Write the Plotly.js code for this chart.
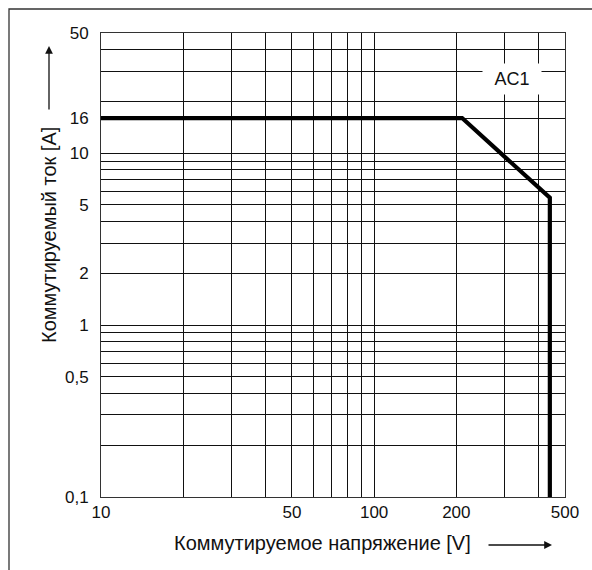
<!DOCTYPE html>
<html>
<head>
<meta charset="utf-8">
<script src="https://cdn.plot.ly/plotly-3.0.1.min.js"></script>
<style>
  html, body { margin: 0; padding: 0; background: #fff; }
  #chart { width: 592px; height: 570px; }
</style>
</head>
<body>
<div id="chart"></div>
<script>
// Curve (AC1 load limit)
const voltage = [10, 210, 440, 440];
const current = [16, 16, 5.5, 0.1];

// Grid / tick values and labels
const xTickVals = [10, 20, 30, 40, 50, 60, 70, 80, 90, 100, 200, 300, 400, 500];
const xTickText = ['10', '', '', '', '50', '', '', '', '', '100', '200', '', '', '500'];
const yTickVals = [0.1, 0.2, 0.3, 0.4, 0.5, 0.6, 0.7, 0.8, 0.9,
                   1, 2, 3, 4, 5, 6, 7, 8, 9, 10, 16, 20, 30, 40, 50];
const yTickText = ['0,1', '', '', '', '0,5', '', '', '', '',
                   '1', '2', '', '', '5', '', '', '', '', '10', '16', '', '', '', '50'];

const seriesLabel = 'AC1';
const xTitle = 'Коммутируемое напряжение [V]';
const yTitle = 'Коммутируемый ток [A]';

const FONT = 'Liberation Sans, Arial, Helvetica, sans-serif';

// plot area geometry (pixels)
const L = 101, T = 33, W = 464, H = 464;
const px = v => (v - L) / W;          // pixel x -> paper
const py = v => 1 - (v - T) / H;      // pixel y -> paper

const trace = {
  x: voltage, y: current,
  type: 'scatter', mode: 'lines',
  line: { color: '#000', width: 4.2, shape: 'linear' },
  hoverinfo: 'skip', showlegend: false
};

const axisCommon = {
  type: 'log',
  showgrid: true, gridcolor: '#111', gridwidth: 1,
  showline: true, linecolor: '#333', linewidth: 1, mirror: true,
  zeroline: false,
  ticks: 'outside', tickcolor: 'rgba(0,0,0,0)',
  tickmode: 'array',
  tickfont: { family: FONT, size: 17, color: '#111' },
  fixedrange: true
};

const layout = {
  width: 592, height: 570,
  margin: { l: L, r: 592 - L - W, t: T, b: 570 - T - H, pad: 0 },
  paper_bgcolor: '#fff', plot_bgcolor: '#fff',
  showlegend: false,
  xaxis: Object.assign({}, axisCommon, {
    range: [Math.log10(10), Math.log10(500)],
    tickvals: xTickVals, ticktext: xTickText, ticklen: 0
  }),
  yaxis: Object.assign({}, axisCommon, {
    range: [Math.log10(0.1), Math.log10(50)],
    tickvals: yTickVals, ticktext: yTickText, ticklen: 8
  }),
  shapes: [
    { type: 'rect', xref: 'paper', yref: 'paper',
      x0: px(9), x1: px(640), y0: py(620), y1: py(9),
      line: { color: '#333', width: 1.3 }, fillcolor: 'rgba(0,0,0,0)' }
  ],
  annotations: [
    { xref: 'x', yref: 'y', x: Math.log10(320), y: Math.log10(27),
      text: seriesLabel, showarrow: false,
      font: { family: FONT, size: 18, color: '#111' },
      bgcolor: '#fff', width: 50, height: 22, borderpad: 4,
      xanchor: 'center', yanchor: 'middle' },
    { xref: 'paper', yref: 'paper', x: px(322), y: py(543),
      text: xTitle, showarrow: false,
      font: { family: FONT, size: 20, color: '#111' },
      xanchor: 'center', yanchor: 'middle' },
    { xref: 'paper', yref: 'paper', x: px(49), y: py(235),
      text: yTitle, showarrow: false, textangle: -90,
      font: { family: FONT, size: 20, color: '#111' },
      xanchor: 'center', yanchor: 'middle' },
    { xref: 'paper', yref: 'paper', x: px(49), y: py(46),
      text: '', showarrow: true, ax: 0, ay: 65,
      arrowhead: 2, arrowsize: 1.2, arrowwidth: 1.3, arrowcolor: '#111' },
    { xref: 'paper', yref: 'paper', x: px(552), y: py(545),
      text: '', showarrow: true, ax: -65, ay: 0,
      arrowhead: 2, arrowsize: 1.2, arrowwidth: 1.3, arrowcolor: '#111' }
  ]
};

Plotly.newPlot('chart', [trace], layout, { displayModeBar: false, staticPlot: true });
</script>
</body>
</html>
